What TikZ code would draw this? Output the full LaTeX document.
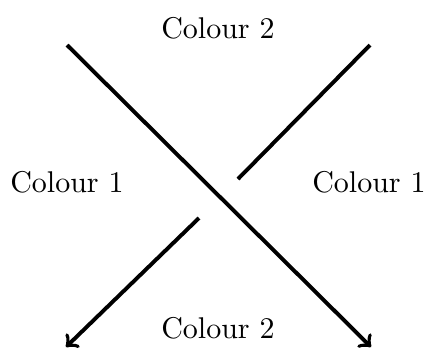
\documentclass[tikz,border=0pt]{standalone}
\usepackage{tikz}
\usetikzlibrary{positioning}

\begin{document}
\begin{tikzpicture}[
    x=0.3333pt, y=-0.3333pt,
    strand/.style={line width=1.3pt},
    label/.style={font=\normalsize},
  ]
    \useasboundingbox (0,0) rectangle (428,349);

    % ends of the two strands
    \coordinate (TL) at (67,45);
    \coordinate (TR) at (370,45);
    \coordinate (BL) at (66,347);
    \coordinate (BR) at (371,347);
    % gap in the under strand
    \coordinate (G1) at (238,179);
    \coordinate (G2) at (199,218);

    \draw[strand, ->] (TL) -- (BR);
    \draw[strand] (TR) -- (G1);
    \draw[strand, ->] (G2) -- (BL);

    \node[label] (top) at (218,28) {Colour 2};
    \node[label] (bot) at (218,328) {Colour 2};
    \node[label] (left) at (67,182) {Colour 1};
    \node[label] (right) at (369,182) {Colour 1};
  \end{tikzpicture}
\end{document}
